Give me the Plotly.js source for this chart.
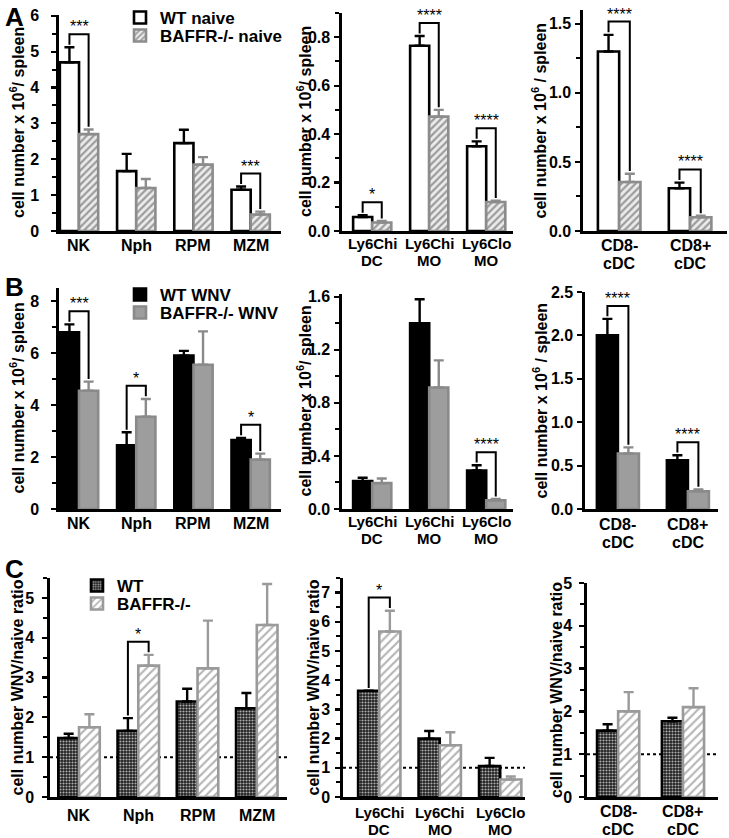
<!DOCTYPE html>
<html><head><meta charset="utf-8">
<script src="https://cdn.plot.ly/plotly-3.0.1.min.js"></script>
<style>html,body{margin:0;padding:0;background:#fff}#chart{width:729px;height:838px}</style>
</head><body><div id="chart"></div>
<script>
// ---------- categories ----------
const catsCells   = ["NK", "Nph", "RPM", "MZM"];
const catsMyeloid = ["Ly6Chi<br>DC", "Ly6Chi<br>MO", "Ly6Clo<br>MO"];
const catsDC      = ["CD8-<br>cDC", "CD8+<br>cDC"];

// ---------- legend names ----------
const namesA = ["WT naive", "BAFFR-/- naive"];
const namesB = ["WT WNV", "BAFFR-/- WNV"];
const namesC = ["WT", "BAFFR-/-"];

// ---------- A: naive (cell number x 10^6 / spleen) ----------
const naiveWT_cells     = [4.70, 1.67, 2.45, 1.15];
const naiveWT_cells_err = [0.42, 0.48, 0.37, 0.09];
const naiveKO_cells     = [2.70, 1.20, 1.85, 0.46];
const naiveKO_cells_err = [0.13, 0.25, 0.21, 0.08];

const naiveWT_my     = [0.058, 0.765, 0.350];
const naiveWT_my_err = [0.007, 0.040, 0.020];
const naiveKO_my     = [0.035, 0.472, 0.120];
const naiveKO_my_err = [0.006, 0.028, 0.005];

const naiveWT_dc     = [1.30, 0.31];
const naiveWT_dc_err = [0.12, 0.04];
const naiveKO_dc     = [0.355, 0.10];
const naiveKO_dc_err = [0.06, 0.01];

// ---------- B: WNV ----------
const wnvWT_cells     = [6.80, 2.45, 5.90, 2.65];
const wnvWT_cells_err = [0.30, 0.50, 0.18, 0.08];
const wnvKO_cells     = [4.55, 3.55, 5.55, 1.90];
const wnvKO_cells_err = [0.35, 0.68, 1.28, 0.23];

const wnvWT_my     = [0.21, 1.40, 0.29];
const wnvWT_my_err = [0.025, 0.18, 0.04];
const wnvKO_my     = [0.195, 0.915, 0.065];
const wnvKO_my_err = [0.035, 0.205, 0.01];

const wnvWT_dc     = [2.00, 0.56];
const wnvWT_dc_err = [0.19, 0.06];
const wnvKO_dc     = [0.64, 0.205];
const wnvKO_dc_err = [0.07, 0.02];

// ---------- C: WNV/naive ratio ----------
const ratioWT_cells     = [1.48, 1.66, 2.40, 2.23];
const ratioWT_cells_err = [0.11, 0.32, 0.32, 0.38];
const ratioKO_cells     = [1.75, 3.30, 3.23, 4.32];
const ratioKO_cells_err = [0.33, 0.27, 1.20, 1.03];

const ratioWT_my     = [3.64, 2.00, 1.06];
const ratioWT_my_err = [0.00, 0.26, 0.28];
const ratioKO_my     = [5.67, 1.77, 0.60];
const ratioKO_my_err = [0.71, 0.45, 0.10];

const ratioWT_dc     = [1.55, 1.77];
const ratioWT_dc_err = [0.15, 0.08];
const ratioKO_dc     = [2.00, 2.10];
const ratioKO_dc_err = [0.45, 0.44];

const ratioRef = [1];   // dotted reference line (ratio = 1)

// ---------- significance: [category index, label] ----------
const sigA1 = [[0, "***"], [3, "***"]];
const sigA2 = [[0, "*"], [1, "****"], [2, "****"]];
const sigA3 = [[0, "****"], [1, "****"]];
const sigB1 = [[0, "***"], [1, "*"], [3, "*"]];
const sigB2 = [[2, "****"]];
const sigB3 = [[0, "****"], [1, "****"]];
const sigC1 = [[1, "*"]];
const sigC2 = [[0, "*"]];
const sigC3 = [];

// ---------- styles / layout ----------
const W = 729, H = 838;
const FONT = '"Liberation Sans", Arial, Helvetica, sans-serif';
const px = x => x / W;
const py = y => 1 - y / H;

const styles = {
  A: {
    names: namesA, legs: ['legend', 'legend2'],
    wt: {color: '#ffffff', line: '#000000', err: '#000000'},
    ko: {color: '#e0e0e0', line: '#8c8c8c', err: '#8c8c8c',
         pattern: {shape: '/', bgcolor: '#ececec', fgcolor: '#9c9c9c', size: 5, solidity: 0.45, fillmode: 'replace'}}
  },
  B: {
    names: namesB, legs: ['legend3', 'legend4'],
    wt: {color: '#000000', line: '#000000', err: '#000000'},
    ko: {color: '#9d9d9d', line: '#8a8a8a', err: '#8a8a8a'}
  },
  C: {
    names: namesC, legs: ['legend5', 'legend6'],
    wt: {color: '#2a2a2a', line: '#000000', err: '#000000',
         pattern: {shape: '.', bgcolor: '#202020', fgcolor: '#b0b0b0', size: 3, solidity: 0.4, fillmode: 'replace'}},
    ko: {color: '#ffffff', line: '#9a9a9a', err: '#9a9a9a',
         pattern: {shape: '/', bgcolor: '#ffffff', fgcolor: '#b3b3b3', size: 6, solidity: 0.35, fillmode: 'replace'}}
  }
};

const titleCells = 'cell number x 10<sup>6</sup>/ spleen';
const titleCells2 = 'cell number x 10<sup>6</sup> / spleen';
const titleRatio = 'cell number WNV/naive ratio';

const panels = [
  {cats: catsCells, wt: naiveWT_cells, wtE: naiveWT_cells_err, ko: naiveKO_cells, koE: naiveKO_cells_err, sig: sigA1, st: 'A', leg: true,
   dom: [59, 281, 15, 231], xr: [-0.35, 3.53], bw: 0.67, yr: [0, 6.02], dt: 1, mn: 0.5, fmt: 'd', tx: 17, title: titleCells, cf: 16, lo: [14], sd: 9},
  {cats: catsMyeloid, wt: naiveWT_my, wtE: naiveWT_my_err, ko: naiveKO_my, koE: naiveKO_my_err, sig: sigA2, st: 'A',
   dom: [342, 513, 13, 231], xr: [-0.53, 2.47], bw: 0.67, yr: [0, 0.9], dt: 0.2, mn: 0.1, fmt: '.1f', tx: 304, title: titleCells, cf: 15, lo: [12, 29], sd: 1},
  {cats: catsDC, wt: naiveWT_dc, wtE: naiveWT_dc_err, ko: naiveKO_dc, koE: naiveKO_dc_err, sig: sigA3, st: 'A',
   dom: [583, 727, 10, 231], xr: [-0.51, 1.52], bw: 0.6, yr: [0, 1.6], dt: 0.5, mn: 0.25, fmt: '.1f', tx: 539, title: titleCells2, cf: 16, lo: [14, 32], sd: 1},

  {cats: catsCells, wt: wnvWT_cells, wtE: wnvWT_cells_err, ko: wnvKO_cells, koE: wnvKO_cells_err, sig: sigB1, st: 'B', leg: true,
   dom: [59, 281, 288, 509], xr: [-0.35, 3.53], bw: 0.67, yr: [0, 8.5], dt: 2, mn: 1, fmt: 'd', tx: 18, title: titleCells, cf: 16, lo: [14], sd: 9},
  {cats: catsMyeloid, wt: wnvWT_my, wtE: wnvWT_my_err, ko: wnvKO_my, koE: wnvKO_my_err, sig: sigB2, st: 'B',
   dom: [342, 513, 294, 509], xr: [-0.53, 2.47], bw: 0.67, yr: [0, 1.62], dt: 0.4, mn: 0.2, fmt: '.1f', tx: 304, title: titleCells, cf: 15, lo: [12, 29], sd: 1},
  {cats: catsDC, wt: wnvWT_dc, wtE: wnvWT_dc_err, ko: wnvKO_dc, koE: wnvKO_dc_err, sig: sigB3, st: 'B',
   dom: [585, 718, 292, 509], xr: [-0.47, 1.43], bw: 0.6, yr: [0, 2.5], dt: 0.5, mn: 0, fmt: '.1f', tx: 540, title: titleCells2, cf: 16, lo: [15, 33], sd: 1},

  {cats: catsCells, wt: ratioWT_cells, wtE: ratioWT_cells_err, ko: ratioKO_cells, koE: ratioKO_cells_err, sig: sigC1, st: 'C', leg: true, ref: true,
   dom: [50, 287, 578, 797], xr: [-0.49, 3.51], bw: 0.7, yr: [0, 5.5], dt: 1, mn: 0.5, fmt: 'd', tx: 17, title: titleRatio, cf: 16, lo: [18], sd: 5},
  {cats: catsMyeloid, wt: ratioWT_my, wtE: ratioWT_my_err, ko: ratioKO_my, koE: ratioKO_my_err, sig: sigC2, st: 'C', ref: true,
   dom: [343, 525, 578, 797], xr: [-0.6, 2.41], bw: 0.7, yr: [0, 7.5], dt: 1, mn: 0.5, fmt: 'd', tx: 313, title: titleRatio, cf: 15, lo: [15, 32], sd: 2},
  {cats: catsDC, wt: ratioWT_dc, wtE: ratioWT_dc_err, ko: ratioKO_dc, koE: ratioKO_dc_err, sig: sigC3, st: 'C', ref: true,
   dom: [587, 718, 583, 797], xr: [-0.48, 1.54], bw: 0.65, yr: [0, 5.0], dt: 1, mn: 0.5, fmt: 'd', tx: 556, title: titleRatio, cf: 16, lo: [14, 32], sd: 4}
];

const traces = [];
const shapes = [];
const annotations = [];
const layout = {
  width: W, height: H,
  margin: {l: 0, r: 0, t: 0, b: 0},
  paper_bgcolor: '#ffffff', plot_bgcolor: 'rgba(0,0,0,0)',
  barmode: 'overlay',
  font: {family: FONT, color: '#000'},
  shapes: shapes, annotations: annotations
};

// one legend per item so each entry can be placed like the original
const legendBase = {
  bgcolor: 'rgba(0,0,0,0)', borderwidth: 0, tracegroupgap: 0,
  font: {family: FONT, size: 17, weight: 'bold', color: '#000'},
  xanchor: 'left', yanchor: 'top', orientation: 'v', itemwidth: 30
};
const legendPos = {
  legend:  [120, 0],   legend2: [120, 18],
  legend3: [120, 277], legend4: [120, 295],
  legend5: [77, 568],  legend6: [77, 586]
};
Object.keys(legendPos).forEach(k => {
  layout[k] = Object.assign({}, legendBase, {x: px(legendPos[k][0]), y: py(legendPos[k][1])});
});

panels.forEach((p, k) => {
  const n = k + 1;
  const xa = n === 1 ? 'x' : 'x' + n;
  const ya = n === 1 ? 'y' : 'y' + n;
  const xk = n === 1 ? 'xaxis' : 'xaxis' + n;
  const yk = n === 1 ? 'yaxis' : 'yaxis' + n;
  const S = styles[p.st];
  const xs = p.cats.map((_, i) => i);
  const zeros = p.cats.map(() => 0);
  const w = p.bw / 2;

  [['wt', p.wt, p.wtE, -w, 0], ['ko', p.ko, p.koE, 0, 1]].forEach(([key, vals, errs, off, ni]) => {
    const s = S[key];
    const marker = {color: s.color, line: {color: s.line, width: 2.6}};
    if (s.pattern) marker.pattern = s.pattern;
    traces.push({
      type: 'bar', x: xs, y: vals, xaxis: xa, yaxis: ya,
      width: w, offset: off,
      marker: marker,
      error_y: {type: 'data', array: errs, arrayminus: zeros, symmetric: false,
                color: s.err, thickness: 2.4, width: 5},
      name: S.names[ni],
      showlegend: !!p.leg, legend: S.legs[ni],
      hoverinfo: 'skip'
    });
  });

  const [x0, x1, yt, yb] = p.dom;
  layout[xk] = {
    domain: [px(x0), px(x1)], range: p.xr, anchor: ya,
    tickmode: 'array', tickvals: xs, showticklabels: false,
    showline: true, linecolor: '#000', linewidth: 2.6, mirror: false,
    ticks: '', showgrid: false, zeroline: false, fixedrange: true
  };
  const yax = {
    domain: [py(yb), py(yt)], range: p.yr, anchor: xa,
    dtick: p.dt, tick0: 0, tickformat: p.fmt,
    showline: true, linecolor: '#000', linewidth: 2.6,
    ticks: 'outside', ticklen: 5, tickwidth: 2.2, tickcolor: '#000',
    ticklabelstandoff: p.sd,
    showgrid: false, zeroline: false, fixedrange: true,
    tickfont: {family: FONT, size: 16, weight: 'bold', color: '#000'}
  };
  if (p.mn) yax.minor = {dtick: p.mn, tick0: 0, ticks: 'outside', ticklen: 4, tickwidth: 2, tickcolor: '#000', showgrid: false};
  layout[yk] = yax;

  // category labels (one annotation per line, tight line spacing like the original)
  p.cats.forEach((c, i) => {
    c.split('<br>').forEach((line, j) => {
      annotations.push({xref: xa, yref: 'paper', x: i, y: py(yb + p.lo[j]),
        text: line, showarrow: false, xanchor: 'center', yanchor: 'middle',
        font: {family: FONT, size: p.cf, weight: 'bold', color: '#000'}});
    });
  });

  // y-axis title (rotated annotation)
  annotations.push({
    xref: 'paper', yref: 'paper', x: px(p.tx), y: (py(yb) + py(yt)) / 2,
    text: p.title, textangle: -90, showarrow: false,
    xanchor: 'center', yanchor: 'middle',
    font: {family: FONT, size: 16, weight: 'bold', color: '#000'}
  });

  // dotted reference line
  if (p.ref) {
    shapes.push({type: 'line', xref: xa + ' domain', yref: ya, x0: 0, x1: 1,
                 y0: ratioRef[0], y1: ratioRef[0], layer: 'below',
                 line: {color: '#000', width: 2, dash: 'dot'}});
  }

  // significance brackets
  const span = p.yr[1] - p.yr[0];
  p.sig.forEach(([i, lab]) => {
    const a = p.wt[i] + p.wtE[i], b = p.ko[i] + p.koE[i];
    const pad = 0.012 * span;
    const top = Math.max(a, b) + 0.06 * span;
    const xl = i - w / 2, xr = i + w / 2;
    shapes.push({type: 'path', xref: xa, yref: ya,
      path: `M${xl},${a + pad} L${xl},${top} L${xr},${top} L${xr},${b + pad}`,
      line: {color: '#000', width: 2}});
    annotations.push({xref: xa, yref: ya, x: i, y: top, text: lab, showarrow: false,
      xanchor: 'center', yanchor: 'bottom', yshift: -3,
      font: {family: FONT, size: 16, color: '#000'}});
  });
});

// panel letters
[['A', 0], ['B', 270], ['C', 552]].forEach(([t, y]) => {
  annotations.push({xref: 'paper', yref: 'paper', x: px(3), y: py(y), text: t, showarrow: false,
    xanchor: 'left', yanchor: 'top', font: {family: FONT, size: 26, weight: 'bold', color: '#000'}});
});

Plotly.newPlot('chart', traces, layout, {staticPlot: true, displayModeBar: false});
</script>
</body></html>
